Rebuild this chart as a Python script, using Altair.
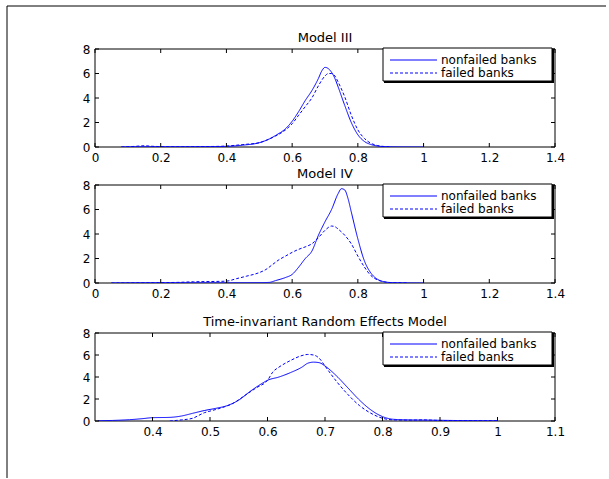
import altair as alt
import pandas as pd

BLUE = "#0000ff"
FONT = "DejaVu Sans"
groups = ["nonfailed banks", "failed banks"]
titles = ["Model III", "Model IV", "Time-invariant Random Effects Model"]

# Model III
x3n = [0.08, 0.15, 0.25, 0.35, 0.40, 0.45, 0.50, 0.53, 0.55, 0.58, 0.60, 0.62, 0.64, 0.66, 0.68, 0.69, 0.70, 0.71, 0.72, 0.73, 0.74, 0.76, 0.78, 0.80, 0.82, 0.84, 0.86, 0.88, 0.92, 1.00]
y3n = [0.0, 0.02, 0.02, 0.03, 0.05, 0.15, 0.35, 0.65, 0.95, 1.5, 2.1, 2.9, 3.8, 4.6, 5.6, 6.2, 6.5, 6.4, 6.1, 5.6, 4.9, 3.4, 2.0, 1.0, 0.45, 0.2, 0.08, 0.03, 0.01, 0.0]
x3f = [0.08, 0.12, 0.15, 0.18, 0.25, 0.35, 0.40, 0.45, 0.50, 0.53, 0.55, 0.58, 0.60, 0.62, 0.64, 0.66, 0.68, 0.70, 0.71, 0.72, 0.73, 0.74, 0.76, 0.78, 0.80, 0.82, 0.84, 0.86, 0.88, 0.90]
y3f = [0.0, 0.05, 0.1, 0.05, 0.02, 0.04, 0.08, 0.2, 0.35, 0.65, 0.9, 1.4, 1.9, 2.6, 3.3, 4.0, 5.0, 5.8, 6.0, 6.0, 5.8, 5.3, 4.1, 2.6, 1.4, 0.7, 0.3, 0.12, 0.04, 0.01]

# Model IV
x4n = [0.05, 0.2, 0.3, 0.4, 0.5, 0.53, 0.55, 0.58, 0.60, 0.62, 0.64, 0.66, 0.68, 0.70, 0.72, 0.74, 0.75, 0.76, 0.77, 0.78, 0.80, 0.82, 0.84, 0.86, 0.88, 0.90, 0.95, 1.0]
y4n = [0.0, 0.02, 0.02, 0.02, 0.03, 0.05, 0.2, 0.45, 0.7, 1.3, 2.0, 2.6, 3.9, 5.0, 6.0, 7.3, 7.7, 7.6, 6.9, 5.8, 3.6, 1.8, 0.8, 0.3, 0.1, 0.04, 0.01, 0.0]
x4f = [0.05, 0.15, 0.25, 0.3, 0.35, 0.4, 0.43, 0.46, 0.5, 0.52, 0.54, 0.56, 0.58, 0.60, 0.62, 0.64, 0.66, 0.68, 0.70, 0.72, 0.73, 0.74, 0.76, 0.78, 0.80, 0.82, 0.84, 0.86, 0.88, 0.90, 0.95]
y4f = [0.0, 0.02, 0.05, 0.1, 0.12, 0.15, 0.35, 0.55, 0.85, 1.1, 1.5, 1.9, 2.2, 2.5, 2.75, 2.95, 3.2, 3.7, 4.3, 4.65, 4.6, 4.4, 3.9, 3.2, 2.2, 1.3, 0.6, 0.25, 0.1, 0.03, 0.01]

# Time-invariant Random Effects Model
xtn = [0.305, 0.33, 0.36, 0.38, 0.40, 0.43, 0.45, 0.47, 0.49, 0.51, 0.53, 0.55, 0.57, 0.59, 0.60, 0.62, 0.64, 0.66, 0.67, 0.68, 0.69, 0.70, 0.72, 0.74, 0.76, 0.78, 0.80, 0.82, 0.85, 0.88, 0.92, 0.96, 1.0]
ytn = [0.02, 0.05, 0.12, 0.2, 0.3, 0.33, 0.45, 0.7, 0.95, 1.15, 1.4, 1.9, 2.7, 3.4, 3.7, 4.0, 4.4, 4.9, 5.25, 5.35, 5.3, 5.0, 4.1, 3.0, 1.9, 1.0, 0.4, 0.15, 0.1, 0.08, 0.05, 0.03, 0.02]
xtf = [0.43, 0.45, 0.47, 0.48, 0.49, 0.50, 0.52, 0.54, 0.56, 0.58, 0.60, 0.61, 0.62, 0.64, 0.66, 0.67, 0.68, 0.69, 0.70, 0.72, 0.74, 0.76, 0.78, 0.80, 0.82, 0.85, 0.87, 0.90, 0.95, 1.0]
ytf = [0.0, 0.1, 0.25, 0.5, 0.75, 0.9, 1.2, 1.6, 2.3, 3.0, 3.7, 4.5, 4.9, 5.5, 5.95, 6.05, 6.0, 5.7, 5.0, 3.6, 2.4, 1.4, 0.7, 0.25, 0.1, 0.08, 0.1, 0.05, 0.03, 0.02]

xticks_ab = [0, 0.2, 0.4, 0.6, 0.8, 1.0, 1.2, 1.4]
xticks_c = [0.4, 0.5, 0.6, 0.7, 0.8, 0.9, 1.0, 1.1]
yticks = [0, 2, 4, 6, 8]
xdom_ab = [0, 1.4]
xdom_c = [0.3, 1.1]
ydom = [0, 8]

W = 460
TICK = 4
FS = 12
FS_T = 13
FS_L = 12


def make_df(xn, yn, xf, yf):
    return pd.concat([
        pd.DataFrame({"x": xn, "y": yn, "group": groups[0]}),
        pd.DataFrame({"x": xf, "y": yf, "group": groups[1]}),
    ], ignore_index=True)


def panel(title, df, xdom, xticks, gh, T, frame=False):
    # gh: group height, T: top of the plot box inside the group
    xs = alt.Scale(domain=xdom, nice=False, zero=False)
    ys = alt.Scale(domain=ydom, nice=False, zero=False, range=[gh, T])
    common_axis = dict(ticks=False, tickSize=0, domain=False, grid=False, labelFont=FONT,
                       labelFontSize=FS, labelColor="black", labelPadding=5, title=None,
                       labelFlush=False, format="~g")
    xax = alt.Axis(values=xticks, **common_axis)
    yax = alt.Axis(values=yticks, **common_axis)
    one = pd.DataFrame({"k": [0]})
    frame_box = alt.Chart(one).mark_rect(fill="white", stroke="black", strokeWidth=1).encode(
        x=alt.value(0), x2=alt.value(W), y=alt.value(T), y2=alt.value(gh))
    lines = alt.Chart(df).mark_line(strokeWidth=1, interpolate="monotone", clip=True).encode(
        x=alt.X("x:Q", scale=xs, axis=xax),
        y=alt.Y("y:Q", scale=ys, axis=yax),
        color=alt.Color("group:N", scale=alt.Scale(domain=groups, range=[BLUE, BLUE]), legend=None),
        strokeDash=alt.StrokeDash("group:N", scale=alt.Scale(domain=groups, range=[[1, 0], [3, 2]]), legend=None),
        detail="group:N",
    )
    xt = pd.DataFrame({"x": xticks})
    yt = pd.DataFrame({"y": yticks})
    tb = alt.Chart(xt).mark_rule(color="black", strokeWidth=1).encode(
        x=alt.X("x:Q", scale=xs, axis=xax), y=alt.value(gh), y2=alt.value(gh - TICK))
    tt = alt.Chart(xt).mark_rule(color="black", strokeWidth=1).encode(
        x=alt.X("x:Q", scale=xs, axis=xax), y=alt.value(T), y2=alt.value(T + TICK))
    tl = alt.Chart(yt).mark_rule(color="black", strokeWidth=1).encode(
        y=alt.Y("y:Q", scale=ys, axis=yax), x=alt.value(0), x2=alt.value(TICK))
    tr = alt.Chart(yt).mark_rule(color="black", strokeWidth=1).encode(
        y=alt.Y("y:Q", scale=ys, axis=yax), x=alt.value(W), x2=alt.value(W - TICK))

    shadow = alt.Chart(one).mark_rect(color="black").encode(
        x=alt.value(289), x2=alt.value(459), y=alt.value(T), y2=alt.value(T + 34))
    box = alt.Chart(one).mark_rect(fill="white", stroke="black", strokeWidth=1).encode(
        x=alt.value(288), x2=alt.value(457), y=alt.value(T - 1), y2=alt.value(T + 32))
    leg = []
    for i, g in enumerate(groups):
        yy = T + 11 + 13 * i
        src = pd.DataFrame({"label": [g]})
        rule = alt.Chart(src).mark_rule(color=BLUE, stroke=BLUE, strokeWidth=1,
                                        strokeDash=[1, 0] if i == 0 else [3, 2])
        leg.append(rule.encode(x=alt.value(295), x2=alt.value(342), y=alt.value(yy)))
        leg.append(alt.Chart(src).mark_text(align="left", baseline="middle", font=FONT,
                                             fontSize=FS_L, color="black").encode(
            x=alt.value(346), y=alt.value(yy), text="label:N"))
    tdf = pd.DataFrame({"title": [title]})
    ttl = alt.Chart(tdf).mark_text(align="center", baseline="middle", font=FONT,
                                   fontSize=FS_T, color="black").encode(
        x=alt.value(W / 2), y=alt.value(T - 11), text="title:N")
    layers = [frame_box, lines, tb, tt, tl, tr, shadow, box] + leg + [ttl]
    if frame:
        fr = pd.DataFrame({"k": [0]})
        layers.append(alt.Chart(fr).mark_rule(color="black", strokeWidth=1).encode(
            x=alt.value(-88), y=alt.value(-43), y2=alt.value(429)))
        layers.append(alt.Chart(fr).mark_rule(color="black", strokeWidth=1).encode(
            x=alt.value(-88), x2=alt.value(511), y=alt.value(-43)))
    return alt.layer(*layers).properties(width=W, height=gh)


p1 = panel(titles[0], make_df(x3n, y3n, x3f, y3f), xdom_ab, xticks_ab, 98, 0, frame=True)
p2 = panel(titles[1], make_df(x4n, y4n, x4f, y4f), xdom_ab, xticks_ab, 98, 0)
p3 = panel(titles[2], make_df(xtn, ytn, xtf, ytf), xdom_c, xticks_c, 100, 12)

chart = alt.vconcat(p1, p2, p3, spacing=38, bounds="flush").properties(
    padding={"left": 6, "top": 5, "right": 0, "bottom": 0},
    background="white",
).configure_view(stroke=None)

chart.save("out.html", embed_options={"renderer": "svg", "actions": False})
